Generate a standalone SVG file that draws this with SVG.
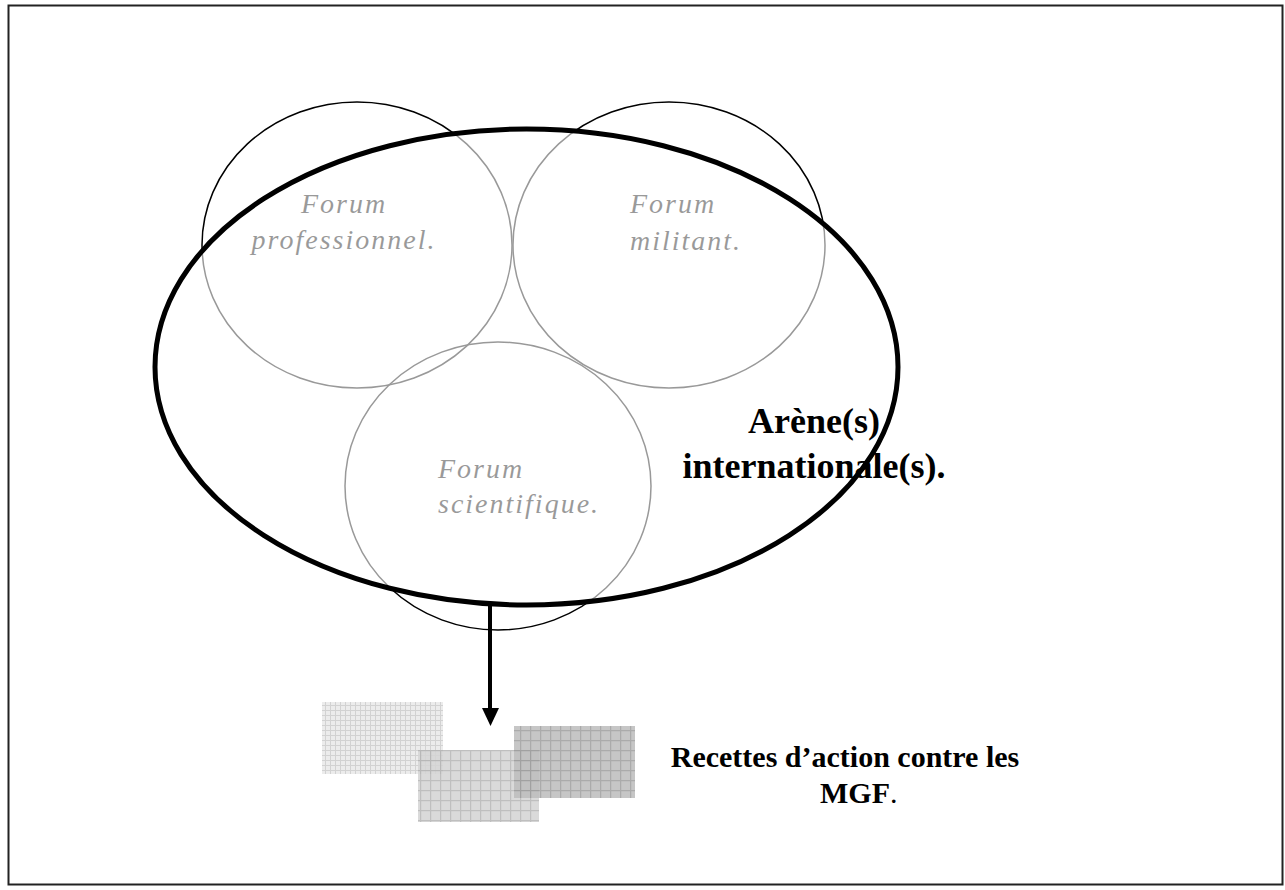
<svg xmlns="http://www.w3.org/2000/svg" width="1285" height="890" viewBox="0 0 1285 890">
<style>
.forum{fill:none;stroke:#000;stroke-width:1.5}
.ftxt{font-family:"Liberation Serif","Times New Roman",serif;font-style:italic;font-size:28px;letter-spacing:2px;fill:#000}
.btxt{font-family:"Liberation Serif","Times New Roman",serif;font-weight:bold;fill:#000}
</style>
<defs>
<pattern id="gL" width="10" height="10" patternUnits="userSpaceOnUse">
<rect width="10" height="10" fill="#ececec"/>
<path d="M0 0.5H10M0.5 0V10M0 5.5H10M5.5 0V10" stroke="#d2d2d2" stroke-width="1"/>
</pattern>
<pattern id="gM" width="10" height="10" patternUnits="userSpaceOnUse">
<rect width="10" height="10" fill="#d4d4d4"/>
<path d="M0 0.5H10M0.5 0V10" stroke="#b4b4b4" stroke-width="1.5"/>
</pattern>
<pattern id="gD" width="10" height="10" patternUnits="userSpaceOnUse">
<rect width="10" height="10" fill="#bcbcbc"/>
<path d="M0 0.5H10M0.5 0V10" stroke="#9c9c9c" stroke-width="1.5"/>
</pattern>
</defs>
<rect id="frame" x="8.5" y="5.5" width="1274" height="879" fill="#fff" stroke="#222" stroke-width="2"/>
<g id="forum-professionnel">
<ellipse class="forum" cx="357" cy="245" rx="155" ry="143"/>
<text class="ftxt" x="344" y="213" text-anchor="middle">Forum</text>
<text class="ftxt" x="344" y="249" text-anchor="middle">professionnel.</text>
</g>
<g id="forum-militant">
<ellipse class="forum" cx="669" cy="245" rx="156" ry="143"/>
<text class="ftxt" x="630" y="213">Forum</text>
<text class="ftxt" x="630" y="250">militant.</text>
</g>
<g id="forum-scientifique">
<ellipse class="forum" cx="498" cy="486" rx="153" ry="144"/>
<text class="ftxt" x="438" y="478">Forum</text>
<text class="ftxt" x="438" y="513">scientifique.</text>
</g>
<g id="arene">
<ellipse cx="526.5" cy="367" rx="371.5" ry="238" fill="#fff" fill-opacity="0.6" stroke="#000" stroke-width="5"/>
<text class="btxt" font-size="36" x="814" y="433" text-anchor="middle">Arène(s)</text>
<text class="btxt" font-size="36" x="814" y="478" text-anchor="middle">internationale(s).</text>
</g>
<g id="connectors">
<line x1="490" y1="605" x2="490" y2="710" stroke="#000" stroke-width="4"/>
<polygon points="482,708 499,708 490.5,726" fill="#000"/>
</g>
<g id="recettes">
<rect x="322" y="702" width="121" height="72" fill="url(#gL)"/>
<rect x="418" y="750" width="121" height="72" fill="url(#gM)" opacity="0.85"/>
<rect x="514" y="726" width="121" height="72" fill="url(#gD)" opacity="0.85"/>
<text class="btxt" font-size="30" x="845" y="767" text-anchor="middle">Recettes d’action contre les</text>
<text class="btxt" font-size="30" x="820" y="803">MGF<tspan font-weight="normal">.</tspan></text>
</g>
</svg>
